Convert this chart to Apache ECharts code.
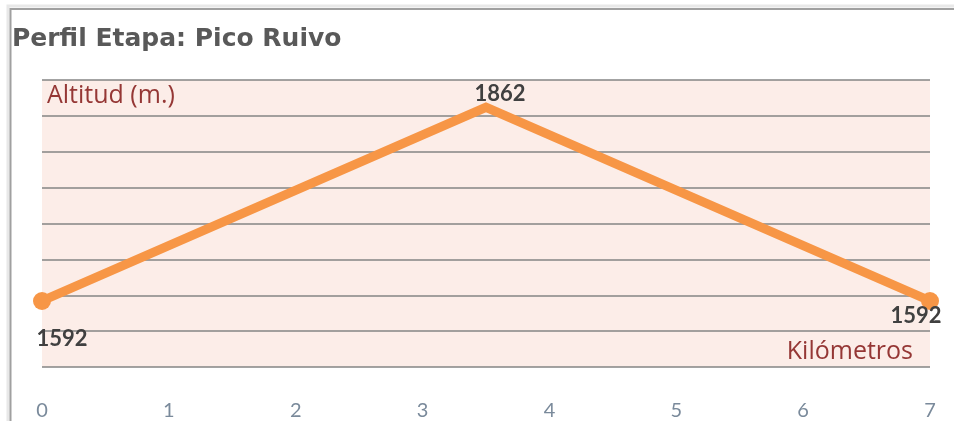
<!DOCTYPE html>
<html><head><meta charset="utf-8">
<script src="https://cdn.jsdelivr.net/npm/echarts@6/dist/echarts.min.js"></script>
<style>html,body{margin:0;padding:0;background:#fff}#c{width:954px;height:421px}</style>
</head><body><div id="c"></div>
<script>
const titleText = "Perfil Etapa: Pico Ruivo";
const yAxisName = "Altitud (m.)";
const xAxisName = "Kilómetros";
const km = [0, 3.5, 7];
const altitude = [1592, 1862, 1592];
const xTicks = [0, 1, 2, 3, 4, 5, 6, 7];
const labelPos = ['bottom', 'top', 'bottom'];
const labelOffset = [[20, 10], [14, 6], [-14, -13]];
const showSymbol = [true, false, true];

const chart = echarts.init(document.getElementById('c'));
chart.setOption({
  animation: false,
  backgroundColor: '#fff',
  title: {
    text: titleText, left: 7, top: 22,
    textStyle: {fontFamily: 'DejaVu Sans', fontWeight: 'bold', fontSize: 25, color: '#595959'}
  },
  graphic: [
    {type: 'rect', shape: {x: 8, y: 6, width: 1000, height: 500}, style: {fill: 'none', stroke: '#e8e8e8', lineWidth: 3}, z: 99},
    {type: 'rect', shape: {x: 10.5, y: 9, width: 1000, height: 500}, style: {fill: 'none', stroke: '#a0a0a0', lineWidth: 2}, z: 100},
    {type: 'text', left: 47, top: 83, style: {text: yAxisName, fontFamily: 'Open Sans', fontSize: 25, fill: '#953735'}, z: 100},
    {type: 'text', right: 41, top: 339, style: {text: xAxisName, fontFamily: 'Open Sans', fontSize: 25, fill: '#953735'}, z: 100}
  ],
  grid: {left: 42, right: 24, top: 80, bottom: 51, show: true, backgroundColor: '#fcede8', borderWidth: 0},
  xAxis: {
    type: 'value', min: 0, max: 7, interval: 1,
    axisLine: {show: false}, axisTick: {show: false}, splitLine: {show: false},
    axisLabel: {margin: 34, fontFamily: 'Lato', fontSize: 20, color: '#7a8a9b',
      formatter: v => xTicks.includes(v) ? String(v) : ''}
  },
  yAxis: {
    type: 'value', min: 1500, max: 1900, interval: 50,
    axisLine: {show: false}, axisTick: {show: false}, axisLabel: {show: false},
    splitLine: {show: true, lineStyle: {color: '#858585', width: 1.6}}
  },
  series: [{
    type: 'line',
    data: km.map((x, i) => ({
      value: [x, altitude[i]],
      symbolSize: showSymbol[i] ? 18 : 0,
      label: {position: labelPos[i], offset: labelOffset[i]}
    })),
    symbol: 'circle',
    lineStyle: {color: '#f79646', width: 9, join: 'miter', miterLimit: 10},
    itemStyle: {color: '#f79646'},
    label: {show: true, fontFamily: 'Lato', fontWeight: 'bold', fontSize: 22, color: '#404040', distance: 8,
      formatter: p => String(p.value[1])},
    clip: false
  }]
});
</script></body></html>
